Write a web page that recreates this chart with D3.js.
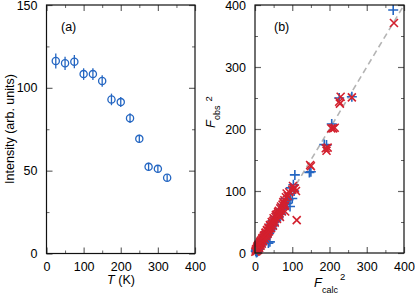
<!DOCTYPE html>
<html lang="en">
<head>
<meta charset="UTF-8">
<title>Intensity and F2</title>
<script src="https://d3js.org/d3.v7.min.js"></script>
<style>
  body { margin: 0; background: #fff; }
  text { font-family: "Liberation Sans", Arial, sans-serif; fill: #000; }
</style>
</head>
<body>
<script>
// panel (a): intensity vs temperature
var temps = [25, 50, 75, 100, 125, 150, 175, 200, 225, 250, 275, 300, 325]
var intensity = [116.2, 114.8, 115.8, 108.3, 108.3, 104.1, 93, 91.4, 81.7, 69.2, 52.3, 51.1, 45.7]
var intErr = [4.5, 4, 4, 3.5, 3.5, 3.5, 3.5, 3, 3, 2.5, 2.5, 2, 2]

// panel (b): Fobs^2 vs Fcalc^2, two refinements
var blueCalc = [2, 4, 5, 7, 9, 10, 12, 14, 15, 17, 19, 21, 22, 24, 26, 28, 30, 31, 33, 36, 38, 40, 41, 44, 46, 48, 51, 54, 57, 60, 63, 66, 70, 74, 78, 82, 86, 94, 100, 103, 107, 146, 150, 186, 192, 206, 226, 260, 371,
    3, 6, 8, 11, 13, 16, 18, 20, 23, 25, 27, 29, 32, 35, 37, 42, 45, 49, 52, 55, 58, 62, 65, 68, 72, 76, 80, 84, 90, 95, 96, 105]
var blueObs = [3, 1, 8, 4, 12, 6, 9, 15, 11, 18, 14, 22, 17, 26, 21, 30, 25, 34, 29, 16, 32, 18, 36, 47, 40, 52, 45, 58, 52, 64, 57, 70, 63, 78, 72, 88, 80, 75, 88, 110, 126, 130, 131, 175, 174, 208, 250, 252, 392,
    5, 2, 10, 7, 11, 13, 20, 16, 20, 23, 24, 28, 27, 31, 35, 38, 43, 46, 50, 53, 55, 60, 62, 66, 70, 74, 78, 84, 86, 96, 105, 100]
var redCalc = [1, 3, 4, 6, 8, 9, 11, 13, 15, 16, 18, 20, 22, 24, 26, 28, 30, 32, 34, 36, 38, 40, 43, 45, 48, 50, 53, 56, 59, 62, 65, 67, 68, 72, 76, 79, 80, 81, 85, 104, 107, 112, 148, 150, 190, 192, 195, 205, 210, 214, 226, 228, 230, 260, 373,
    2, 5, 7, 10, 12, 14, 17, 19, 21, 23, 25, 27, 29, 31, 33, 35, 37, 39, 42, 44, 47, 49, 52, 55, 58, 61, 64, 66, 70, 74, 78, 83, 88, 92, 100, 102, 110]
var redObs = [2, 6, 3, 9, 5, 13, 8, 16, 12, 20, 15, 24, 19, 28, 23, 32, 27, 37, 31, 41, 35, 45, 40, 50, 44, 56, 49, 61, 55, 66, 60, 58, 72, 67, 82, 85, 76, 67, 96, 104, 104, 53, 142, 140, 169, 165, 170, 201, 201, 202, 244, 241, 252, 251, 371,
    4, 7, 11, 10, 14, 18, 17, 22, 20, 25, 27, 29, 33, 30, 36, 34, 39, 40, 44, 46, 49, 52, 54, 58, 62, 63, 68, 64, 75, 78, 80, 90, 92, 98, 102, 108, 100]

var width = 415, height = 295
var svg = d3.select("body").append("svg")
    .attr("width", width)
    .attr("height", height)

var tickCol = "#666"
var blue = "#2466c2", red = "#d3202e"

function frame(g, x, y, xMaj, xMin, yMaj, yMin) {
    var x0 = x.range()[0], x1 = x.range()[1]
    var y0 = y.range()[0], y1 = y.range()[1]
    // minor ticks all four sides
    var sides = [
        [d3.axisBottom(x), y0, 0, xMin], [d3.axisTop(x), y1, 0, xMin],
        [d3.axisLeft(y), 0, x0, yMin], [d3.axisRight(y), 0, x1, yMin]
    ]
    sides.forEach(function (s) {
        g.append("g")
            .attr("transform", "translate(" + s[2] + "," + s[1] + ")")
            .call(s[0].tickValues(s[3]).tickSize(-3).tickFormat(""))
            .call(function (a) { a.select(".domain").remove() })
            .selectAll("line").attr("stroke", tickCol)
    })
    // major ticks, labels only bottom and left
    var bx = g.append("g")
        .attr("transform", "translate(0," + y0 + ")")
        .call(d3.axisBottom(x).tickValues(xMaj).tickSize(-6).tickPadding(9))
    var tx = g.append("g")
        .attr("transform", "translate(0," + y1 + ")")
        .call(d3.axisTop(x).tickValues(xMaj).tickSize(-6).tickFormat(""))
    var ly = g.append("g")
        .attr("transform", "translate(" + x0 + ",0)")
        .call(d3.axisLeft(y).tickValues(yMaj).tickSize(-6).tickPadding(9))
    var ry = g.append("g")
        .attr("transform", "translate(" + x1 + ",0)")
        .call(d3.axisRight(y).tickValues(yMaj).tickSize(-6).tickFormat(""))
    ;[bx, tx, ly, ry].forEach(function (a) {
        a.select(".domain").remove()
        a.selectAll("line").attr("stroke", tickCol).attr("stroke-width", 1.2)
        a.selectAll("text").style("font-size", "12.5px").attr("fill", "#000")
    })
    g.append("rect")
        .attr("x", x0).attr("y", y1)
        .attr("width", x1 - x0).attr("height", y0 - y1)
        .attr("fill", "none").attr("stroke", "#111").attr("stroke-width", 1.2)
}

// ---------- panel (a)
var ga = svg.append("g")
var xa = d3.scaleLinear().domain([0, 400]).range([46.5, 195])
var ya = d3.scaleLinear().domain([0, 150]).range([253.5, 5])

ga.append("g").selectAll("line")
    .data(temps)
    .enter().append("line")
    .attr("x1", (d) => xa(d)).attr("x2", (d) => xa(d))
    .attr("y1", (d, i) => ya(intensity[i] - intErr[i]))
    .attr("y2", (d, i) => ya(intensity[i] + intErr[i]))
    .attr("stroke", blue).attr("stroke-width", 1.3)
ga.append("g").selectAll("circle")
    .data(temps)
    .enter().append("circle")
    .attr("cx", (d) => xa(d))
    .attr("cy", (d, i) => ya(intensity[i]))
    .attr("r", 3.6)
    .attr("fill", "none").attr("stroke", blue).attr("stroke-width", 1.3)

frame(ga, xa, ya, [0, 100, 200, 300, 400], [50, 150, 250, 350],
    [0, 50, 100, 150], [25, 75, 125])

ga.append("text").attr("x", 61).attr("y", 31).style("font-size", "12.5px").text("(a)")
ga.append("text")
    .attr("transform", "translate(14,129) rotate(-90)")
    .attr("text-anchor", "middle").style("font-size", "12.5px")
    .text("Intensity (arb. units)")
var tl = ga.append("text").attr("x", 121).attr("y", 284)
    .attr("text-anchor", "middle").style("font-size", "12.5px")
tl.append("tspan").style("font-style", "italic").text("T")
tl.append("tspan").text(" (K)")

// ---------- panel (b)
var gb = svg.append("g")
var xb = d3.scaleLinear().domain([0, 400]).range([255, 404])
var yb = d3.scaleLinear().domain([0, 400]).range([253, 5])

gb.append("line")
    .attr("x1", xb(0)).attr("y1", yb(0))
    .attr("x2", xb(400)).attr("y2", yb(400))
    .attr("stroke", "#b4b4b4").attr("stroke-width", 1.6)
    .attr("stroke-dasharray", "6,4")

gb.append("g").selectAll("path")
    .data(blueCalc)
    .enter().append("path")
    .attr("d", function (d, i) {
        var cx = xb(d), cy = yb(blueObs[i]), s = 5
        return "M" + (cx - s) + "," + cy + "H" + (cx + s) + "M" + cx + "," + (cy - s) + "V" + (cy + s)
    })
    .attr("stroke", blue).attr("stroke-width", 1.6).attr("fill", "none")

gb.append("g").selectAll("path")
    .data(redCalc)
    .enter().append("path")
    .attr("d", function (d, i) {
        var cx = xb(d), cy = yb(redObs[i]), s = 4
        return "M" + (cx - s) + "," + (cy - s) + "L" + (cx + s) + "," + (cy + s) +
            "M" + (cx - s) + "," + (cy + s) + "L" + (cx + s) + "," + (cy - s)
    })
    .attr("stroke", red).attr("stroke-width", 1.6).attr("fill", "none")

frame(gb, xb, yb, [0, 100, 200, 300, 400], [50, 150, 250, 350],
    [0, 100, 200, 300, 400], [50, 150, 250, 350])

gb.append("text").attr("x", 274).attr("y", 31).style("font-size", "12.5px").text("(b)")

var yl = gb.append("text")
    .attr("transform", "translate(215,128) rotate(-90)")
    .style("font-size", "13px")
yl.append("tspan").style("font-style", "italic").text("F")
yl.append("tspan").attr("dy", 5).style("font-size", "9px").text("obs")
yl.append("tspan").attr("dx", 4).attr("dy", -8).style("font-size", "9.5px").text("2")

var xl = gb.append("text")
    .attr("x", 314).attr("y", 287)
    .style("font-size", "13px")
xl.append("tspan").style("font-style", "italic").text("F")
xl.append("tspan").attr("dy", 6).style("font-size", "9px").text("calc")
xl.append("tspan").attr("dx", 2).attr("dy", -13).style("font-size", "9.5px").text("2")
</script>
</body>
</html>
